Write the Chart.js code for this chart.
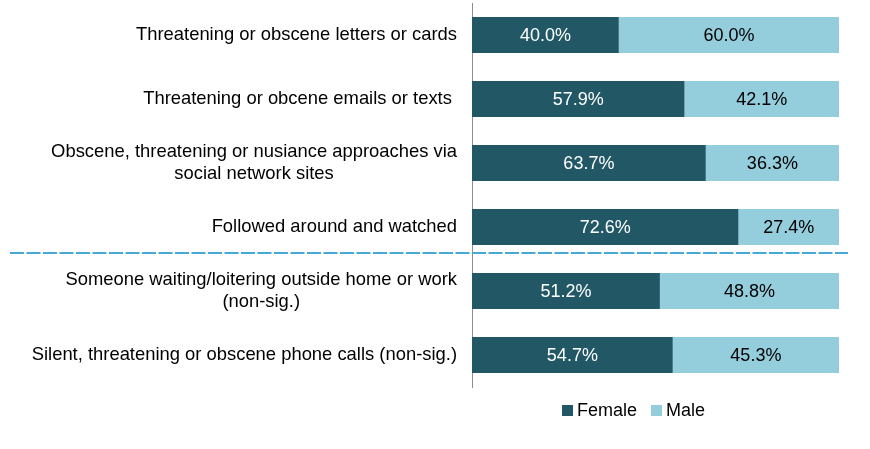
<!DOCTYPE html>
<html>
<head>
<meta charset="utf-8">
<script src="https://cdn.jsdelivr.net/npm/chart.js@4.4.1/dist/chart.umd.min.js"></script>
<style>
  html, body { margin: 0; padding: 0; background: #fff; }
  #wrap { position: relative; width: 870px; height: 449px; }
  #legend { position: absolute; left: 562px; top: 400px; font: 18px "Liberation Sans", Arial, sans-serif; color: #000; white-space: nowrap; }
  #legend span.box { display: inline-block; width: 11px; height: 11px; margin-right: 4px; vertical-align: 0px; }
  #legend span.item { margin-right: 14px; }
</style>
</head>
<body>
<div id="wrap">
  <canvas id="chart" width="870" height="449"></canvas>
  <div id="legend"></div>
</div>
<script>
const categories = [
    "Threatening or obscene letters or cards",
    "Threatening or obcene emails or texts ",
    ["Obscene, threatening or nusiance approaches via", "social network sites"],
    "Followed around and watched",
    ["Someone waiting/loitering outside home or work", "(non-sig.)"],
    "Silent, threatening or obscene phone calls (non-sig.)"
];
const femaleValues = [40.0, 57.9, 63.7, 72.6, 51.2, 54.7];
const maleValues = [60.0, 42.1, 36.3, 27.4, 48.8, 45.3];

const femaleColor = "#225866";
const maleColor = "#94cddc";
const fontFamily = "'Liberation Sans', Arial, sans-serif";
const labelFont = "18.4px " + fontFamily;

// writes the percentage in the middle of each bar
const barLabels = {
    id: "barLabels",
    afterDatasetsDraw(chart) {
        const ctx = chart.ctx;
        ctx.save();
        ctx.font = "18px " + fontFamily;
        ctx.textAlign = "center";
        ctx.textBaseline = "middle";
        chart.data.datasets.forEach((ds, di) => {
            const meta = chart.getDatasetMeta(di);
            meta.data.forEach((bar, i) => {
                const p = bar.getProps(["x", "y", "base"], true);
                ctx.fillStyle = di === 0 ? "#ffffff" : "#000000";
                ctx.fillText(ds.data[i].toFixed(1) + "%", (p.x + p.base) / 2, p.y + 1);
            });
        });
        ctx.restore();
    }
};

// category labels: block right aligned to the axis, lines centred inside the block
const categoryLabels = {
    id: "categoryLabels",
    afterDraw(chart) {
        const y = chart.scales.y;
        const ctx = chart.ctx;
        const right = y.right - 15;
        const lineHeight = 22.5;
        ctx.save();
        ctx.font = labelFont;
        ctx.fillStyle = "#000";
        ctx.textAlign = "center";
        ctx.textBaseline = "middle";
        chart.data.labels.forEach((label, i) => {
            const lines = Array.isArray(label) ? label : [label];
            const w = Math.max(...lines.map(l => ctx.measureText(l).width));
            const cx = right - w / 2;
            const cy = y.getPixelForValue(i);
            lines.forEach((line, li) => {
                ctx.fillText(line, cx, cy + (li - (lines.length - 1) / 2) * lineHeight);
            });
        });
        ctx.restore();
    }
};

// dashed line between the significant and non-significant rows
const separator = {
    id: "separator",
    afterDraw(chart) {
        const y = chart.scales.y;
        const y3 = y.getPixelForValue(3);
        const lineY = Math.round(y3 + 0.4 * (y.getPixelForValue(4) - y3));
        const ctx = chart.ctx;
        ctx.save();
        ctx.strokeStyle = "#45aad6";
        ctx.lineWidth = 2;
        ctx.setLineDash([14, 2.5]);
        ctx.beginPath();
        ctx.moveTo(10, lineY);
        ctx.lineTo(848, lineY);
        ctx.stroke();
        ctx.restore();
    }
};

const chart = new Chart(document.getElementById("chart"), {
    type: "bar",
    data: {
        labels: categories,
        datasets: [
            { label: "Female", data: femaleValues, backgroundColor: femaleColor },
            { label: "Male", data: maleValues, backgroundColor: maleColor }
        ]
    },
    options: {
        indexAxis: "y",
        responsive: false,
        animation: false,
        layout: { padding: { left: 0, right: 31, top: 3, bottom: 62 } },
        datasets: { bar: { barPercentage: 1, categoryPercentage: 0.5625 } },
        plugins: {
            legend: { display: false },
            tooltip: { enabled: false }
        },
        scales: {
            x: { stacked: true, min: 0, max: 100, display: false },
            y: {
                stacked: true,
                grid: { display: false, drawTicks: false },
                border: { display: true, color: "#8c8c8c", width: 1 },
                ticks: { display: false },
                afterFit(scale) {
                    scale.width = 472;
                    scale.paddingTop = 0;
                    scale.paddingBottom = 0;
                }
            }
        }
    },
    plugins: [barLabels, categoryLabels, separator]
});

const legend = document.getElementById("legend");
chart.data.datasets.forEach(ds => {
    const item = document.createElement("span");
    item.className = "item";
    const box = document.createElement("span");
    box.className = "box";
    box.style.background = ds.backgroundColor;
    item.appendChild(box);
    item.appendChild(document.createTextNode(ds.label));
    legend.appendChild(item);
});
</script>
</body>
</html>
